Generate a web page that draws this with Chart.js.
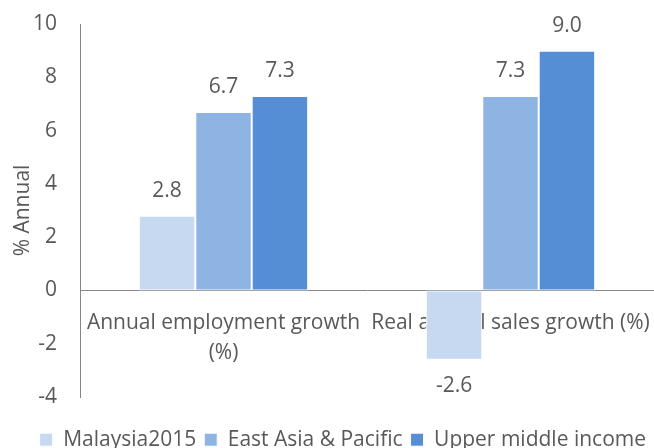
<!DOCTYPE html>
<html>
<head>
<meta charset="utf-8">
<script src="https://cdn.jsdelivr.net/npm/chart.js@4"></script>
<style>
  html, body { margin: 0; padding: 0; background: #fff; }
  #wrap { width: 654px; height: 448px; }
</style>
</head>
<body>
<div id="wrap"><canvas id="growth" width="654" height="448"></canvas></div>
<script>
const categories = [['Annual employment growth', '(%)'], 'Real annual sales growth (%)'];
const seriesNames = ['Malaysia2015', 'East Asia & Pacific', 'Upper middle income'];
const malaysia2015 = [2.8, -2.6];
const eastAsiaPacific = [6.7, 7.3];
const upperMiddleIncome = [7.3, 9.0];
const yMin = -4;
const yMax = 10;
const yStep = 2;
const yTitle = '% Annual';

(function(){

    const textColor = '#595959';
    const axisColor = '#868686';
    const fontFamily = '"Open Sans", sans-serif';
    const colors = ['#c6d9f1', '#8db4e2', '#558ed5'];

    // value labels above (or below, for negatives) each bar
    const valueLabels = {
        id: 'valueLabels',
        afterDatasetsDraw(chart) {
            const { ctx } = chart;
            ctx.save();
            ctx.font = `21px ${fontFamily}`;
            ctx.fillStyle = textColor;
            ctx.textAlign = 'center';
            ctx.textBaseline = 'middle';
            chart.data.datasets.forEach((ds, i) => {
                chart.getDatasetMeta(i).data.forEach((bar, j) => {
                    const v = ds.data[j];
                    const y = v >= 0 ? bar.y - 25 : bar.y + 26;
                    ctx.fillText(v.toFixed(1), bar.x, y);
                });
            });
            ctx.restore();
        }
    };

    const makeDataset = (label, data, i) => ({
        label,
        data,
        backgroundColor: colors[i],
        borderColor: '#ffffff',
        borderWidth: 1,
        borderSkipped: false,
        barPercentage: 1,
        categoryPercentage: 0.59
    });

    const noPadding = scale => {
        scale.paddingTop = 0;
        scale.paddingBottom = 0;
        scale.paddingLeft = 0;
        scale.paddingRight = 0;
    };

    new Chart(document.getElementById('growth'), {
        type: 'bar',
        data: {
            labels: categories,
            datasets: [
                makeDataset(seriesNames[0], malaysia2015, 0),
                makeDataset(seriesNames[1], eastAsiaPacific, 1),
                makeDataset(seriesNames[2], upperMiddleIncome, 2)
            ]
        },
        options: {
            responsive: false,
            animation: false,
            devicePixelRatio: 1,
            layout: { padding: { top: 24, right: 0, bottom: 0, left: 0 } },
            scales: {
                x: {
                    type: 'category',
                    position: { y: 0 },
                    grid: { display: false, drawTicks: false },
                    border: { display: true, color: axisColor, width: 1 },
                    ticks: {
                        autoSkip: false,
                        maxRotation: 0,
                        minRotation: 0,
                        padding: 18,
                        color: textColor,
                        font: { family: fontFamily, size: 21, lineHeight: 1.4 }
                    },
                    afterFit: noPadding
                },
                y: {
                    min: yMin,
                    max: yMax,
                    grid: { display: false, drawTicks: false },
                    border: { display: true, color: axisColor, width: 1 },
                    ticks: {
                        stepSize: yStep,
                        padding: 23,
                        color: textColor,
                        font: { family: fontFamily, size: 21 }
                    },
                    title: {
                        display: true,
                        text: yTitle,
                        color: textColor,
                        padding: { top: 10, bottom: 0 },
                        font: { family: fontFamily, size: 21 }
                    },
                    afterFit: scale => {
                        scale.width = 80;
                        noPadding(scale);
                    }
                }
            },
            plugins: {
                legend: {
                    position: 'bottom',
                    align: 'end',
                    maxHeight: 51,
                    title: {
                        display: true,
                        text: '',
                        padding: { top: 23, bottom: 0 },
                        font: { size: 1 }
                    },
                    labels: {
                        boxWidth: 13,
                        boxHeight: 13,
                        padding: 8,
                        color: textColor,
                        font: { family: fontFamily, size: 21 }
                    }
                },
                tooltip: { enabled: false }
            }
        },
        plugins: [valueLabels]
    });
})()
</script>
</body>
</html>
